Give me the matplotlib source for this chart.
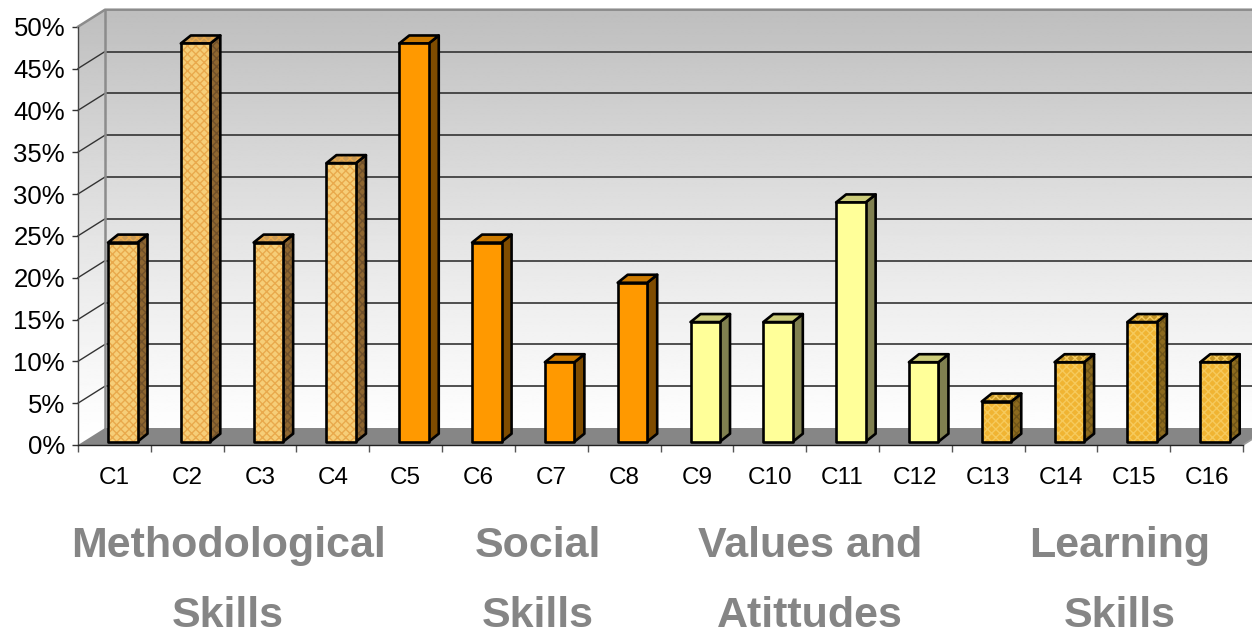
import numpy as np
import matplotlib
matplotlib.use("Agg")
import matplotlib.pyplot as plt
from matplotlib.patches import Polygon
from matplotlib.ticker import FuncFormatter, MultipleLocator, FixedLocator

plt.rcParams['font.family'] = ['Liberation Sans', 'DejaVu Sans']
plt.rcParams['hatch.linewidth'] = 1.0

# ---- data -------------------------------------------------------------
categories = ["C1", "C2", "C3", "C4", "C5", "C6", "C7", "C8",
              "C9", "C10", "C11", "C12", "C13", "C14", "C15", "C16"]
values = [23.8, 47.6, 23.8, 33.3, 47.6, 23.8, 9.5, 19.0,
          14.3, 14.3, 28.6, 9.5, 4.8, 9.5, 14.3, 9.5]
group_of = [0, 0, 0, 0, 1, 1, 1, 1, 2, 2, 2, 2, 3, 3, 3, 3]
group_titles = [("Methodological", "Skills"), ("Social", "Skills"),
                ("Values and", "Atittudes"), ("Learning", "Skills")]
y_ticks = [0, 5, 10, 15, 20, 25, 30, 35, 40, 45, 50]

# ---- styles -----------------------------------------------------------
# (front, side, top, hatch colour or None)
group_styles = [
    ("#F6CE78", "#8E6630", "#C99A55", "#E9A94C"),
    ("#FF9900", "#7F4C00", "#CC7A00", None),
    ("#FFFF99", "#808050", "#CCCC7A", None),
    ("#F0B432", "#8C6A1E", "#C59628", "#F6CA5C"),
]
side_hatch = ["#70502A", None, None, "#705518"]

W, H = 1252, 637
fig = plt.figure(figsize=(W / 100, H / 100), dpi=100)
fig.patch.set_facecolor("white")

# front frame of the plot in pixels
x_left, x_right = 78, 1243
y_zero, y_top = 445, 26.7
ax = fig.add_axes([x_left / W, 1 - y_zero / H,
                   (x_right - x_left) / W, (y_zero - y_top) / H])
n = len(categories)
ax.set_xlim(0, n)
ax.set_ylim(0, 50)
ax.patch.set_visible(False)

px_x = (x_right - x_left) / n          # pixels per category
px_y = (y_zero - y_top) / 50            # pixels per percent

# depth of the floor/walls and of each bar, expressed in data units
DX, DY = 27 / px_x, 17 / px_y
BX0, BW = 30 / px_x, 29.5 / px_x
BZ = 3.3 / px_y
BDX, BDY = 10 / px_x, 8 / px_y
top = 50

# ---- walls with vertical gradient -------------------------------------
wall_outline = [(0, 0), (DX, DY), (n + DX, DY), (n + DX, top + DY),
                (DX, top + DY), (0, top)]
clip_poly = Polygon(wall_outline, closed=True, transform=ax.transData,
                    facecolor="none", edgecolor="none")
t = np.linspace(0, 1, 256)[:, None]
grey = 1.0 - (1.0 - 0.745) * t ** 1.2
grad = np.repeat(grey, 2, axis=1)
img = ax.imshow(grad, cmap="gray", vmin=0, vmax=1, origin="lower",
                extent=(0, n + DX, 0, top + DY), aspect="auto",
                interpolation="bilinear", zorder=1)
img.set_clip_path(clip_poly)
img.set_clip_box(fig.bbox)
ax.set_xlim(0, n)
ax.set_ylim(0, 50)

# gridlines on the back wall and the side wall
for v in y_ticks[1:-1]:
    ax.plot([DX, n + DX], [v + DY, v + DY], color="#333333", lw=1.2,
            zorder=2, clip_on=False, solid_capstyle="butt")
    ax.plot([0, DX], [v, v + DY], color="#333333", lw=1.0,
            zorder=2, clip_on=False)

# wall borders
ax.plot([0, DX, n + DX], [top, top + DY, top + DY], color="#8C8C8C",
        lw=1.8, zorder=2.5, clip_on=False)
ax.plot([DX, DX], [DY, top + DY], color="#8C8C8C", lw=1.8, zorder=2.5,
        clip_on=False)

# floor
floor = Polygon([(0, 0), (n, 0), (n + DX, DY), (DX, DY)], closed=True,
                facecolor="#868686", edgecolor="none", zorder=3,
                clip_on=False)
ax.add_patch(floor)
ax.plot([n, n + DX], [0, DY], color="#9A9A9A", lw=1.2, zorder=3.1,
        clip_on=False)


def face(pts, fc, hatch_col, z):
    if hatch_col is not None:
        ax.add_patch(Polygon(pts, closed=True, facecolor=fc,
                             edgecolor=hatch_col, lw=0, hatch="xxxx",
                             zorder=z, clip_on=False))
    else:
        ax.add_patch(Polygon(pts, closed=True, facecolor=fc,
                             edgecolor="none", zorder=z, clip_on=False))
    ax.add_patch(Polygon(pts, closed=True, fill=False, edgecolor="black",
                         lw=1.9, joinstyle="round", zorder=z + 0.01,
                         clip_on=False))


# ---- bars ---------------------------------------------------------------
for i, v in enumerate(values):
    front_c, side_c, top_c, hcol = group_styles[group_of[i]]
    x0 = i + BX0
    x1 = x0 + BW
    y0 = BZ
    y1 = BZ + v
    front = [(x0, y0), (x1, y0), (x1, y1), (x0, y1)]
    side = [(x1, y0), (x1 + BDX, y0 + BDY), (x1 + BDX, y1 + BDY), (x1, y1)]
    cap = [(x0, y1), (x1, y1), (x1 + BDX, y1 + BDY), (x0 + BDX, y1 + BDY)]
    z = 4 + i * 0.05
    face(side, side_c, side_hatch[group_of[i]], z)
    face(cap, top_c, hcol, z + 0.01)
    face(front, front_c, hcol, z + 0.02)

# ---- axes -------------------------------------------------------------
for s in ("top", "right"):
    ax.spines[s].set_visible(False)
ax.spines["left"].set_color("#444444")
ax.spines["left"].set_linewidth(1.0)
ax.spines["bottom"].set_color("#222222")
ax.spines["bottom"].set_linewidth(1.0)
ax.spines["left"].set_zorder(6)
ax.spines["bottom"].set_zorder(6)

ax.yaxis.set_major_locator(FixedLocator(y_ticks))
ax.yaxis.set_major_formatter(FuncFormatter(lambda v, p: f"{v:.0f}%"))
ax.tick_params(axis="y", direction="out", length=4.3, width=1.0,
               color="#333333", pad=5.0, labelsize=18.5, labelcolor="black")

ax.set_xticks(np.arange(n) + 0.5)
ax.set_xticklabels(categories)
ax.xaxis.set_minor_locator(MultipleLocator(1))
ax.tick_params(axis="x", which="major", length=0, pad=16, labelsize=17.5,
               labelcolor="black")
ax.tick_params(axis="x", which="minor", direction="out", length=5,
               width=1.0, color="#555555")

# ---- group titles -------------------------------------------------------
title_x = [228, 538, 810, 1120]
for cx, (l1, l2) in zip(title_x, group_titles):
    fig.text(cx / W, 1 - 557 / H, l1, ha="center", va="baseline",
             fontsize=31, fontweight="bold", color="#858585")
    fig.text(cx / W, 1 - 627 / H, l2, ha="center", va="baseline",
             fontsize=31, fontweight="bold", color="#858585")

fig.savefig("out.png", dpi=100, facecolor="white")
